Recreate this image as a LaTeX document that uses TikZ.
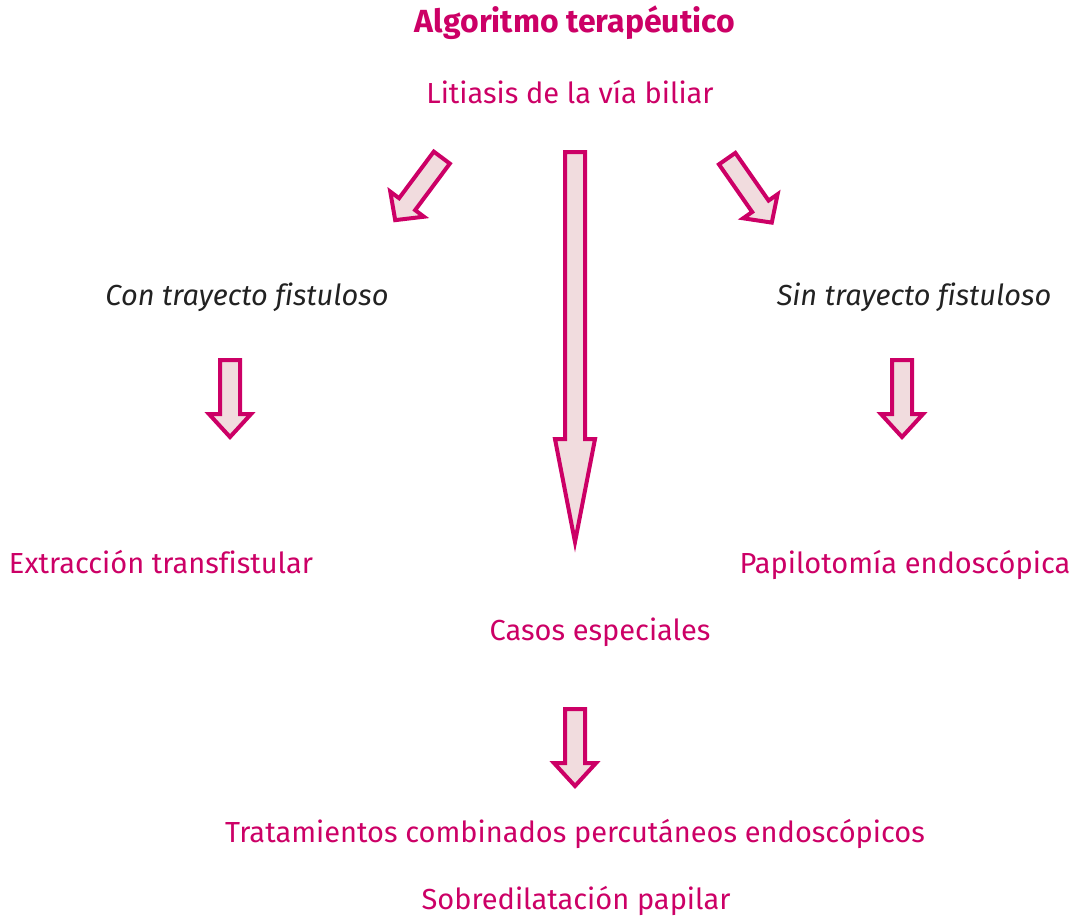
\documentclass[tikz,border=0pt]{standalone}
\usepackage{fontspec}
\setmainfont{Fira Sans}[Ligatures=NoCommon]
\usetikzlibrary{positioning,shapes.arrows}
\definecolor{algomagenta}{RGB}{204,0,102}
\definecolor{algoblush}{RGB}{241,220,222}
\definecolor{algoink}{RGB}{34,34,34}

\begin{document}
\begin{tikzpicture}[x=1pt,y=-1pt,
  algtext/.style={text=algomagenta, font=\fontsize{29}{35}\selectfont, inner sep=0pt, anchor=base},
  branch/.style={text=algoink, font=\fontsize{29}{35}\selectfont\itshape, inner sep=0pt, anchor=base},
  fat/.style={single arrow, draw=algomagenta, fill=algoblush, line width=4pt, inner xsep=0pt, inner ysep=8pt,
    single arrow head extend=10pt, minimum height=#1, anchor=tail}
]
  \useasboundingbox (0,0) rectangle (1075,915);

  \node[algtext, font=\fontsize{32}{38}\selectfont\bfseries] (title) at (575,33) {Algoritmo terapéutico};
  \node[algtext] (litiasis) at (570,103) {Litiasis de la vía biliar};
  \node[branch] (con) at (247,305) {Con trayecto fistuloso};
  \node[branch] (sin) at (914,305) {Sin trayecto fistuloso};
  \node[algtext] (extraccion) at (161,573) {Extracción transfistular};
  \node[algtext] (papilotomia) at (905,573) {Papilotomía endoscópica};
  \node[algtext] (casos) at (600,640) {Casos especiales};
  \node[algtext] (tratamientos) at (575,842) {Tratamientos combinados percutáneos endoscópicos};
  \node[algtext] (sobre) at (576,909) {Sobredilatación papilar};

  \node[fat=390, single arrow tip angle=22, rotate=-90] (central) at (575,150) {};
  \node[fat=78, single arrow tip angle=93, single arrow head extend=11pt, rotate=233.3] (leftdiag) at (443,156) {};
  \node[fat=78, single arrow tip angle=93, single arrow head extend=11pt, rotate=-55.1] (rightdiag) at (726,157) {};

  \foreach \name/\px/\py in {leftdown/230/358, rightdown/902/358, bottomdown/575/707}{
    \node[fat=77, single arrow tip angle=85, single arrow head extend=11pt, rotate=-90] (\name) at (\px,\py) {};
  }
\end{tikzpicture}
\end{document}
